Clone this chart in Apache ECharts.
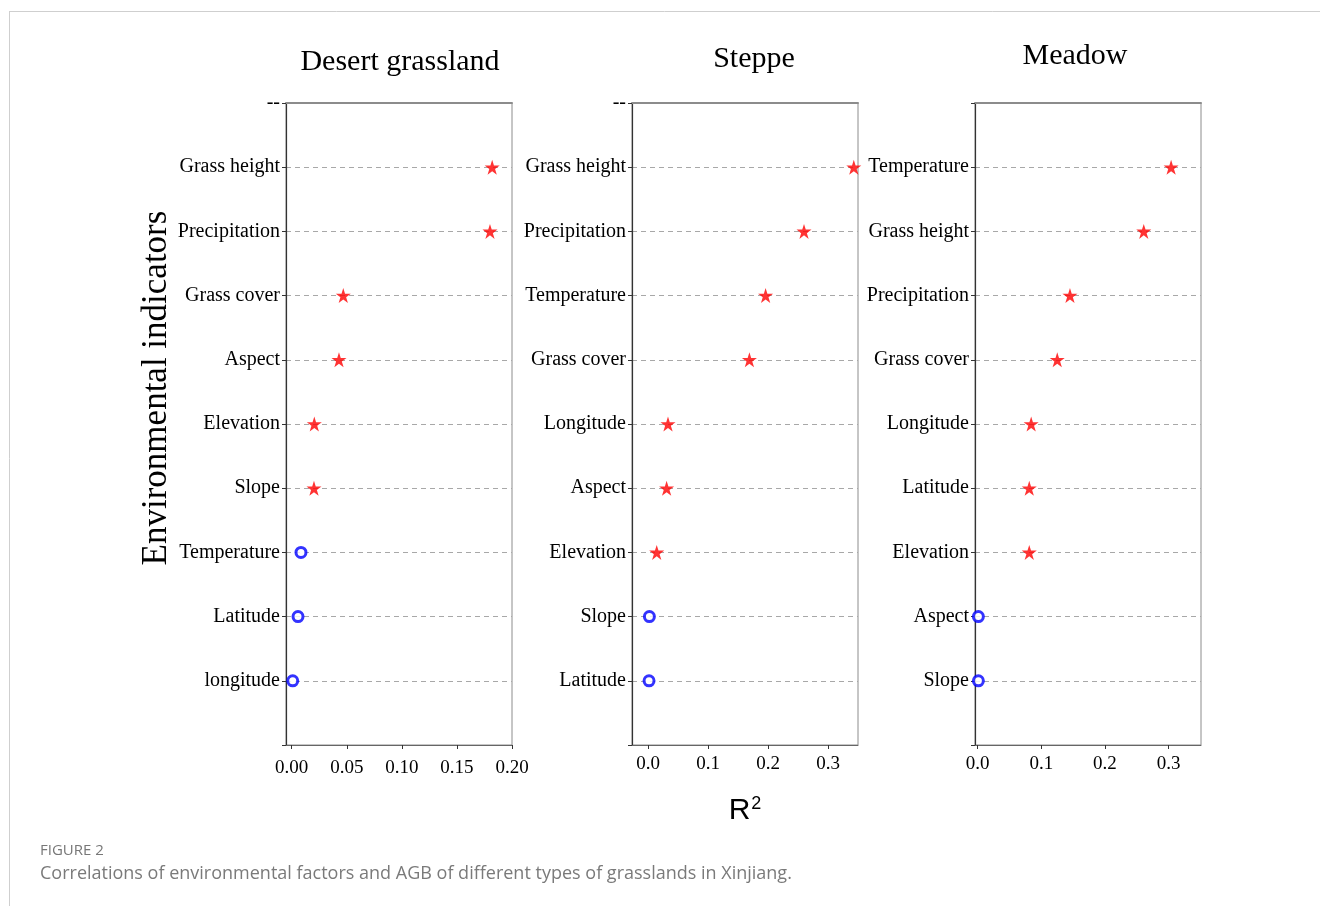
<!DOCTYPE html>
<html>
<head>
<meta charset="utf-8">
<style>
  html, body { margin: 0; padding: 0; background: #fff; }
  #chart { width: 1320px; height: 906px; }
</style>
<script src="https://cdn.jsdelivr.net/npm/echarts@6/dist/echarts.min.js"></script>
</head>
<body>
<div id="chart"></div>
<script>
// Indicators listed bottom-to-top, with R² of each against AGB
const desertCats = ['longitude', 'Latitude', 'Temperature', 'Slope', 'Elevation', 'Aspect', 'Grass cover', 'Precipitation', 'Grass height'];
const desertR2   = [0.0009, 0.0057, 0.0084, 0.0202, 0.0205, 0.0429, 0.0468, 0.180, 0.182];
const desertSig  = [false, false, false, true, true, true, true, true, true];

const steppeCats = ['Latitude', 'Slope', 'Elevation', 'Aspect', 'Longitude', 'Grass cover', 'Temperature', 'Precipitation', 'Grass height'];
const steppeR2   = [0.0017, 0.0023, 0.0145, 0.031, 0.0333, 0.169, 0.196, 0.260, 0.343];
const steppeSig  = [false, false, true, true, true, true, true, true, true];

const meadowCats = ['Slope', 'Aspect', 'Elevation', 'Latitude', 'Longitude', 'Grass cover', 'Precipitation', 'Grass height', 'Temperature'];
const meadowR2   = [0.001, 0.001, 0.081, 0.081, 0.084, 0.125, 0.145, 0.261, 0.304];
const meadowSig  = [false, false, true, true, true, true, true, true, true];

const panelTitles = ['Desert grassland', 'Steppe', 'Meadow'];
const topLabels   = ['--', '--', ''];
const desertTicks = [0, 0.05, 0.10, 0.15, 0.20];
const r2Ticks     = [0, 0.1, 0.2, 0.3];

const SERIF = '"Liberation Serif", "Times New Roman", serif';
const SANS = '"Liberation Sans", Arial, sans-serif';
const STAR = 'path://M50,0 L61.2,34.5 L97.6,34.5 L68.2,55.9 L79.4,90.5 L50,69.1 L20.6,90.5 L31.8,55.9 L2.4,34.5 L38.8,34.5 Z';

const panels = [
  { cats: desertCats, r2: desertR2, sig: desertSig, left: 286, min: -0.0052, max: 0.20, ticks: desertTicks, dec: 2, labelMargin: 14, titleX: 400, titleTop: 47 },
  { cats: steppeCats, r2: steppeR2, sig: steppeSig, left: 632, min: -0.0267, max: 0.35, ticks: r2Ticks, dec: 1, labelMargin: 10, titleX: 754, titleTop: 44 },
  { cats: meadowCats, r2: meadowR2, sig: meadowSig, left: 975, min: -0.0043, max: 0.351, ticks: r2Ticks, dec: 1, labelMargin: 10, titleX: 1075, titleTop: 41 }
];

const grid = [], xAxis = [], yAxis = [], series = [], title = [];

panels.forEach((p, i) => {
  grid.push({ left: p.left, top: 103, width: 226, height: 642, show: true, borderColor: '#8c8c8c', borderWidth: 1 });

  title.push({
    text: panelTitles[i], left: p.titleX, top: p.titleTop, textAlign: 'center', padding: 0,
    textStyle: { fontFamily: SERIF, fontSize: 30, fontWeight: 'normal', color: '#000' }
  });

  xAxis.push({
    type: 'value', gridIndex: i, min: p.min, max: p.max, position: 'bottom',
    axisLine: { show: true, onZero: false, lineStyle: { color: '#666', width: 1 } },
    axisTick: { show: true, length: 4, customValues: p.ticks, lineStyle: { color: '#333' } },
    axisLabel: {
      customValues: p.ticks, margin: p.labelMargin, fontFamily: SERIF, fontSize: 19, color: '#000',
      formatter: v => v.toFixed(p.dec)
    },
    splitLine: { show: false },
    name: i === 1 ? '{r|R}{s|2}' : '',
    nameLocation: 'middle', nameGap: 50,
    nameTextStyle: {
      rich: {
        r: { fontFamily: SANS, fontSize: 30, color: '#000' },
        s: { fontFamily: SANS, fontSize: 18, color: '#000', verticalAlign: 'top', padding: [0, 0, 14, 1] }
      }
    }
  });
  // heavier top edge of the frame
  xAxis.push({
    type: 'value', gridIndex: i, min: p.min, max: p.max, position: 'top',
    axisLine: { show: true, onZero: false, lineStyle: { color: '#8c8c8c', width: 2 } },
    axisTick: { show: false }, axisLabel: { show: false }, splitLine: { show: false }
  });

  yAxis.push({
    type: 'category', gridIndex: i, boundaryGap: false,
    data: [''].concat(p.cats, [topLabels[i]]),
    axisLine: { show: true, onZero: false, lineStyle: { color: '#333', width: 1.2 } },
    axisTick: { show: true, length: 4, alignWithLabel: true, lineStyle: { color: '#333' } },
    axisLabel: { margin: 6, fontFamily: SERIF, fontSize: 20, color: '#000', interval: 0, padding: [4, 0, 0, 0] },
    splitLine: { show: true, lineStyle: { color: '#a8a8a8', type: [5, 4], width: 1 } },
    name: i === 0 ? 'Environmental indicators' : '',
    nameLocation: 'middle', nameRotate: 90, nameGap: 111,
    nameTextStyle: { fontFamily: SERIF, fontSize: 35, color: '#000', padding: [0, 0, 0, 72] }
  });

  const sigData = [], nsData = [];
  p.cats.forEach((c, k) => {
    (p.sig[k] ? sigData : nsData).push([p.r2[k], c]);
  });

  series.push({
    type: 'scatter', xAxisIndex: i * 2, yAxisIndex: i, data: sigData,
    symbol: STAR, symbolSize: 15, itemStyle: { color: '#ff0000' }, z: 5, silent: true
  });
  series.push({
    type: 'scatter', xAxisIndex: i * 2, yAxisIndex: i, data: nsData,
    symbol: 'circle', symbolSize: 10,
    itemStyle: { color: '#fff', borderColor: '#0000ff', borderWidth: 3 }, z: 5, silent: true
  });
});

title.push({
  text: 'FIGURE 2', left: 40, top: 843, padding: 0,
  textStyle: { fontFamily: '"Open Sans", sans-serif', fontSize: 15, fontWeight: 'normal', color: '#777' }
});
title.push({
  text: 'Correlations of environmental factors and AGB of different types of grasslands in Xinjiang.',
  left: 40, top: 865, padding: 0,
  textStyle: { fontFamily: '"Open Sans", sans-serif', fontSize: 18, fontWeight: 'normal', color: '#7a7a7a' }
});

const chart = echarts.init(document.getElementById('chart'), null, { renderer: 'canvas' });
chart.setOption({
  animation: false,
  backgroundColor: '#fff',
  title, grid, xAxis, yAxis, series,
  graphic: [
    { type: 'line', shape: { x1: 9, y1: 11.5, x2: 1320, y2: 11.5 }, style: { stroke: '#cfcfcf', lineWidth: 1 }, silent: true },
    { type: 'line', shape: { x1: 9.5, y1: 11, x2: 9.5, y2: 906 }, style: { stroke: '#cfcfcf', lineWidth: 1 }, silent: true }
  ]
});
</script>
</body>
</html>
